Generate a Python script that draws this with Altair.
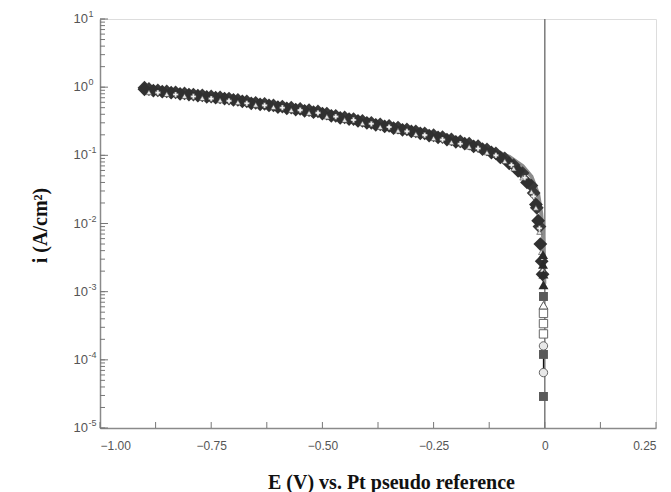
import altair as alt
import pandas as pd

# ---------------- data ----------------
E_diamond = [-0.90, -0.88, -0.86, -0.84, -0.82, -0.80, -0.78, -0.76, -0.74, -0.72,
             -0.70, -0.68, -0.66, -0.64, -0.62, -0.60, -0.58, -0.56, -0.54, -0.52,
             -0.50, -0.48, -0.46, -0.44, -0.42, -0.40, -0.38, -0.36, -0.34, -0.32,
             -0.30, -0.28, -0.26, -0.24, -0.22, -0.20, -0.18, -0.16, -0.14, -0.12,
             -0.10, -0.08, -0.06, -0.04, -0.02, -0.015, -0.010, -0.007, -0.005]
i_diamond = [0.93, 0.89, 0.86, 0.83, 0.80, 0.78, 0.75, 0.72, 0.70, 0.68,
             0.65, 0.62, 0.58, 0.56, 0.54, 0.51, 0.49, 0.47, 0.45, 0.43,
             0.41, 0.38, 0.355, 0.34, 0.32, 0.30, 0.28, 0.265, 0.25, 0.237,
             0.224, 0.21, 0.195, 0.184, 0.17, 0.158, 0.148, 0.135, 0.123, 0.11,
             0.093, 0.076, 0.059, 0.040, 0.019, 0.011, 0.005, 0.0028, 0.0018]

E_diamond2 = [-0.90, -0.89, -0.87, -0.85, -0.83, -0.81, -0.79, -0.77, -0.75, -0.73,
              -0.71, -0.69, -0.67, -0.65, -0.63, -0.61, -0.59, -0.57, -0.55, -0.53,
              -0.51, -0.49, -0.47, -0.45, -0.43, -0.41, -0.39, -0.37, -0.35, -0.33,
              -0.31, -0.29, -0.27, -0.25, -0.23, -0.21, -0.19, -0.17, -0.15, -0.13,
              -0.11, -0.09, -0.07, -0.05, -0.03, -0.025, -0.018, -0.012]
i_diamond2 = [0.98, 0.94, 0.90, 0.87, 0.84, 0.81, 0.78, 0.76, 0.73, 0.71,
              0.68, 0.65, 0.62, 0.59, 0.57, 0.54, 0.52, 0.50, 0.48, 0.46,
              0.44, 0.41, 0.38, 0.36, 0.34, 0.32, 0.30, 0.285, 0.27, 0.255,
              0.24, 0.225, 0.21, 0.197, 0.185, 0.172, 0.160, 0.148, 0.136, 0.122,
              0.107, 0.090, 0.072, 0.055, 0.036, 0.028, 0.017, 0.009]

E_tri = [-0.89, -0.85, -0.81, -0.77, -0.73, -0.69, -0.65, -0.61, -0.57, -0.53,
         -0.49, -0.45, -0.41, -0.37, -0.33, -0.29, -0.25, -0.21, -0.17, -0.13,
         -0.09, -0.07, -0.05, -0.03, -0.02, -0.012, -0.008, -0.005]
i_tri = [0.84, 0.79, 0.74, 0.69, 0.64, 0.60, 0.55, 0.51, 0.46, 0.42,
         0.37, 0.33, 0.295, 0.26, 0.23, 0.205, 0.178, 0.155, 0.133, 0.11,
         0.082, 0.064, 0.047, 0.029, 0.017, 0.0075, 0.0038, 0.0021]

E_cross = [-0.87, -0.83, -0.79, -0.75, -0.71, -0.67, -0.63, -0.59, -0.55, -0.51,
           -0.47, -0.43, -0.39, -0.35, -0.31, -0.27, -0.23, -0.19, -0.15,
           -0.11, -0.075, -0.045, -0.025, -0.012, -0.006]
i_cross = [0.83, 0.78, 0.73, 0.68, 0.63, 0.58, 0.54, 0.50, 0.46, 0.42,
           0.37, 0.33, 0.29, 0.26, 0.225, 0.198, 0.17, 0.148, 0.126,
           0.10, 0.072, 0.047, 0.025, 0.0085, 0.0032]

E_fit = [-0.90, -0.70, -0.50, -0.30, -0.20, -0.12, -0.08, -0.05, -0.03, -0.015,
         -0.008, -0.004, -0.002, -0.001]
i_fit = [0.90, 0.64, 0.41, 0.225, 0.165, 0.122, 0.095, 0.070, 0.049, 0.027,
         0.014, 0.0065, 0.0028, 0.0013]

E_drop_tri_dark = [-0.004, -0.004, -0.003, -0.003]
i_drop_tri_dark = [0.0035, 0.0025, 0.0018, 0.00126]
E_drop_tri_white = [-0.003]
i_drop_tri_white = [0.00063]
E_drop_sq_white = [-0.003, -0.003, -0.003]
i_drop_sq_white = [0.00048, 0.00034, 0.00024]
E_drop_circle = [-0.003, -0.003]
i_drop_circle = [0.00016, 0.000065]
E_drop_sq_dark = [-0.003, -0.003, -0.003]
i_drop_sq_dark = [0.00085, 0.00012, 0.000029]
E_drop_line = [-0.003, -0.003]
i_drop_line = [0.00016, 0.000065]

x_tick_labels = [-1.00, -0.75, -0.50, -0.25, 0, 0.25]
x_ticks = [-1.0, -0.875, -0.75, -0.625, -0.5, -0.375, -0.25, -0.125, 0.0, 0.125, 0.25]
y_decades = [1e-5, 1e-4, 1e-3, 1e-2, 1e-1, 1e0, 1e1]
y_exponents = ["-5", "-4", "-3", "-2", "-1", "0", "1"]

# ---------------- encodings ----------------
xs = alt.Scale(domain=[-1.0, 0.25], nice=False, zero=False)
ys = alt.Scale(type="log", domain=[1e-5, 10], nice=False)

xenc = alt.X("E:Q", scale=xs,
             axis=alt.Axis(values=x_tick_labels, ticks=False, grid=False,
                           labelExpr="datum.value == 0 ? '0' : format(datum.value, '.2f')",
                           labelFont="Liberation Sans", labelFontSize=12, labelColor="#555",
                           labelPadding=12, domainColor="#8a8a8a", domainWidth=1.5,
                           title="E (V) vs. Pt pseudo reference",
                           titleFont="Liberation Serif", titleFontSize=20, titleFontWeight="bold",
                           titleColor="#111", titleBaseline="middle", titleX=291, titleY=54,
                           titleAnchor="start", titleAlign="center"))
yenc = alt.Y("i:Q", scale=ys,
             axis=alt.Axis(values=y_decades, ticks=False, grid=False, labels=False,
                           domainColor="#8a8a8a", domainWidth=1.5,
                           title="i (A/cm²)",
                           titleFont="Liberation Serif", titleFontSize=20, titleFontWeight="bold",
                           titleColor="#111", titleBaseline="middle", titleX=-60, titleY=206,
                           titleAngle=-90, titleAlign="center", titleAnchor="start"))

def df(E, i):
    return pd.DataFrame({"E": E, "i": i})

# y tick labels drawn as "10" + superscript exponent
ylab_df = pd.DataFrame({"i": y_decades, "exp": y_exponents})
ylab_base = alt.Chart(ylab_df).mark_text(
    text="10", align="right", baseline="middle", font="Liberation Sans",
    fontSize=13, color="#555").encode(y=yenc, x=alt.value(-12))
ylab_exp = alt.Chart(ylab_df).mark_text(
    align="left", baseline="middle", font="Liberation Sans",
    fontSize=9, color="#555", dy=-5).encode(y=yenc, x=alt.value(-11.5), text="exp:N")

# inside tick marks
yminor = [k * d for d in y_decades[:-1] for k in range(1, 10)] + [10.0]
ymajor_df = pd.DataFrame({"i": y_decades})
yminor_df = pd.DataFrame({"i": yminor})
xt_df = pd.DataFrame({"E": x_ticks})

ytick_minor = alt.Chart(yminor_df).mark_rule(color="#777", strokeWidth=1).encode(
    y=yenc, x=alt.value(0), x2=alt.value(5))
ytick_major = alt.Chart(ymajor_df).mark_rule(color="#777", strokeWidth=1).encode(
    y=yenc, x=alt.value(0), x2=alt.value(8))
xtick = alt.Chart(xt_df).mark_rule(color="#777", strokeWidth=1).encode(
    x=xenc, y=alt.value(409), y2=alt.value(403))

zero_line = alt.Chart(pd.DataFrame({"E": [0.0]})).mark_rule(color="#7a7a7a", strokeWidth=1.5).encode(x=xenc)

fit = alt.Chart(df(E_fit, i_fit)).mark_line(color="#8c8c8c", strokeWidth=4).encode(x=xenc, y=yenc)

diam = alt.Chart(df(E_diamond, i_diamond)).mark_point(
    shape="diamond", filled=True, color="#303030", size=190, opacity=1).encode(x=xenc, y=yenc)
diam2 = alt.Chart(df(E_diamond2, i_diamond2)).mark_point(
    shape="diamond", filled=True, color="#383838", size=190, opacity=1).encode(x=xenc, y=yenc)
tri = alt.Chart(df(E_tri, i_tri)).mark_point(
    shape="triangle-up", filled=True, fill="#e6e6e6", stroke="#444", strokeWidth=0.6,
    size=30, opacity=1).encode(x=xenc, y=yenc)
cross = alt.Chart(df(E_cross, i_cross)).mark_point(
    shape="cross", filled=True, fill="#f2f2f2", stroke="#555", strokeWidth=0.4,
    size=28, opacity=1).encode(x=xenc, y=yenc)

drop_line = alt.Chart(df(E_drop_line, i_drop_line)).mark_line(color="#111", strokeWidth=1.2).encode(x=xenc, y=yenc)
d_tri_dark = alt.Chart(df(E_drop_tri_dark, i_drop_tri_dark)).mark_point(
    shape="triangle-up", filled=True, color="#2a2a2a", size=100, opacity=1).encode(x=xenc, y=yenc)
d_tri_white = alt.Chart(df(E_drop_tri_white, i_drop_tri_white)).mark_point(
    shape="triangle-up", filled=True, fill="#ffffff", stroke="#555", strokeWidth=1,
    size=80, opacity=1).encode(x=xenc, y=yenc)
d_sq_white = alt.Chart(df(E_drop_sq_white, i_drop_sq_white)).mark_point(
    shape="square", filled=True, fill="#ffffff", stroke="#666", strokeWidth=1,
    size=70, opacity=1).encode(x=xenc, y=yenc)
d_circle = alt.Chart(df(E_drop_circle, i_drop_circle)).mark_point(
    shape="circle", filled=True, fill="#e8e8e8", stroke="#666", strokeWidth=1,
    size=70, opacity=1).encode(x=xenc, y=yenc)
d_sq_dark = alt.Chart(df(E_drop_sq_dark, i_drop_sq_dark)).mark_point(
    shape="square", filled=True, color="#5a5a5a", size=80, opacity=1).encode(x=xenc, y=yenc)

chart = alt.layer(
    zero_line, fit, diam2, diam, tri, cross,
    drop_line, d_sq_dark, d_tri_dark, d_tri_white, d_sq_white, d_circle,
    ytick_minor, ytick_major, xtick, ylab_base, ylab_exp,
).properties(
    width=556, height=409,
    autosize=alt.AutoSizeParams(type="none"),
    padding={"left": 100, "top": 19, "right": 15, "bottom": 64},
).configure_view(stroke="#8a8a8a", strokeWidth=1.5).configure(background="white")

chart.save("out.html", embed_options={"renderer": "svg", "actions": False})
